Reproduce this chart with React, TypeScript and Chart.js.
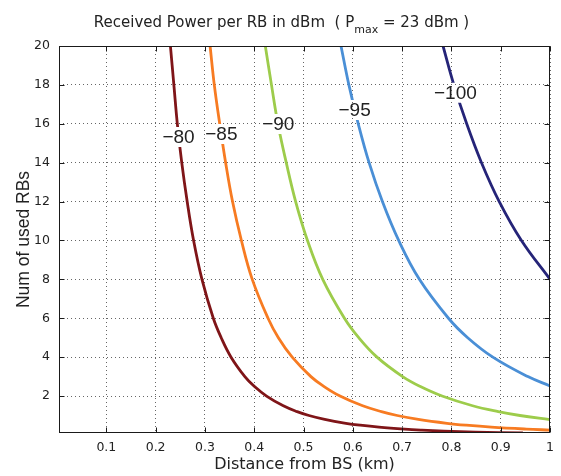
import React, { useEffect, useRef } from "react";
import { Chart, registerables } from "chart.js";

Chart.register(...registerables);

// Contour levels (received power per RB, dBm)
const levelLabels = ["\u221280", "\u221285", "\u221290", "\u221295", "\u2212100"];

// Contour -80 dBm: distance (km) vs number of RBs
const dist80 = [0.230, 0.237, 0.244, 0.253, 0.264, 0.277, 0.294, 0.317, 0.333, 0.353, 0.381, 0.400, 0.425, 0.459, 0.487, 0.511, 0.543, 0.586, 0.615, 0.653, 0.705, 0.740, 0.785, 0.848, 0.945];
const rbs80 = [20, 18, 16, 14, 12, 10, 8, 6, 5, 4, 3, 2.5, 2, 1.5, 1.2, 1, 0.8, 0.6, 0.5, 0.4, 0.3, 0.25, 0.2, 0.15, 0.1];

// Contour -85 dBm
const dist85 = [0.3105, 0.319, 0.330, 0.342, 0.356, 0.374, 0.396, 0.428, 0.449, 0.477, 0.515, 0.541, 0.574, 0.620, 0.658, 0.690, 0.733, 0.791, 0.830, 0.881, 0.952, 1.0];
const rbs85 = [20, 18, 16, 14, 12, 10, 8, 6, 5, 4, 3, 2.5, 2, 1.5, 1.2, 1, 0.8, 0.6, 0.5, 0.4, 0.3, 0.249];

// Contour -90 dBm
const dist90 = [0.4225, 0.435, 0.448, 0.465, 0.484, 0.508, 0.539, 0.583, 0.612, 0.649, 0.701, 0.736, 0.781, 0.843, 0.895, 0.939, 1.0];
const rbs90 = [20, 18, 16, 14, 12, 10, 8, 6, 5, 4, 3, 2.5, 2, 1.5, 1.2, 1, 0.79];

// Contour -95 dBm
const dist95 = [0.576, 0.592, 0.611, 0.633, 0.660, 0.693, 0.735, 0.794, 0.833, 0.884, 0.955, 1.0];
const rbs95 = [20, 18, 16, 14, 12, 10, 8, 6, 5, 4, 3, 2.52];

// Contour -100 dBm
const dist100 = [0.783, 0.805, 0.831, 0.861, 0.897, 0.942, 1.0];
const rbs100 = [20, 18, 16, 14, 12, 10, 8.0];

// Where each contour label sits (data coordinates)
const labelDist = [0.2464, 0.3334, 0.4488, 0.6036, 0.8081];
const labelRbs = [15.32, 15.48, 15.99, 16.71, 17.6];

const xTickValues = [0.1, 0.2, 0.3, 0.4, 0.5, 0.6, 0.7, 0.8, 0.9, 1];
const yTickValues = [2, 4, 6, 8, 10, 12, 14, 16, 18, 20];

const lineColors = ["#7f1518", "#f77b22", "#9dcc4b", "#4a8fd6", "#252478"];

const TEXT = "#222";
const LABEL_FONT = '19px "Liberation Sans", Arial, sans-serif';

export default function App() {
  const ref = useRef<HTMLCanvasElement | null>(null);

  useEffect(() => {
    const canvas = ref.current;
    if (!canvas) return;

    const series = [
      [dist80, rbs80],
      [dist85, rbs85],
      [dist90, rbs90],
      [dist95, rbs95],
      [dist100, rbs100],
    ];

    const datasets = series.map(([xs, ys], i) => ({
      label: levelLabels[i],
      data: xs.map((x, j) => ({ x, y: ys[j] })),
      borderColor: lineColors[i],
      backgroundColor: lineColors[i],
      borderWidth: 2.8,
      pointRadius: 0,
      fill: false,
      tension: 0.4,
      clip: 0,
    }));

    const labelBox = (chart: any, i: number) => {
      const ctx = chart.ctx as CanvasRenderingContext2D;
      ctx.save();
      ctx.font = LABEL_FONT;
      const w = ctx.measureText(levelLabels[i]).width;
      ctx.restore();
      const cx = chart.scales.x.getPixelForValue(labelDist[i]);
      const cy = chart.scales.y.getPixelForValue(labelRbs[i]);
      return { cx, cy, x: cx - w / 2 - 2, y: cy - 10, w: w + 4, h: 20 };
    };

    const contourLabels = {
      id: "contourLabels",
      beforeDatasetDraw(chart: any, args: any) {
        const ctx = chart.ctx as CanvasRenderingContext2D;
        const b = labelBox(chart, args.index);
        ctx.save();
        ctx.beginPath();
        ctx.rect(0, 0, chart.width, chart.height);
        ctx.rect(b.x, b.y, b.w, b.h);
        ctx.clip("evenodd");
      },
      afterDatasetDraw(chart: any) {
        chart.ctx.restore();
      },
      afterDatasetsDraw(chart: any) {
        const ctx = chart.ctx as CanvasRenderingContext2D;
        ctx.save();
        ctx.font = LABEL_FONT;
        ctx.fillStyle = TEXT;
        ctx.textAlign = "center";
        ctx.textBaseline = "middle";
        levelLabels.forEach((t, i) => {
          const b = labelBox(chart, i);
          ctx.fillText(t, b.cx, b.cy + 1);
        });
        ctx.restore();
      },
    };

    const frame = {
      id: "frame",
      afterDraw(chart: any) {
        const ctx = chart.ctx as CanvasRenderingContext2D;
        const a = chart.chartArea;
        const xs = chart.scales.x;
        const ys = chart.scales.y;
        ctx.save();
        ctx.strokeStyle = "#1a1a1a";
        ctx.lineWidth = 1;
        const L = Math.round(a.left) + 0.5;
        const R = Math.round(a.right) - 0.5;
        const T = Math.round(a.top) + 0.5;
        const B = Math.round(a.bottom) - 0.5;
        ctx.strokeRect(L, T, R - L, B - T);
        const tl = 5;
        ctx.beginPath();
        xTickValues.forEach((v) => {
          const px = Math.round(xs.getPixelForValue(v)) + 0.5;
          ctx.moveTo(px, B);
          ctx.lineTo(px, B - tl);
          ctx.moveTo(px, T);
          ctx.lineTo(px, T + tl);
        });
        yTickValues.forEach((v) => {
          const py = Math.round(ys.getPixelForValue(v)) + 0.5;
          ctx.moveTo(L, py);
          ctx.lineTo(L + tl, py);
          ctx.moveTo(R, py);
          ctx.lineTo(R - tl, py);
        });
        ctx.stroke();

        // Title with subscript
        const mainFont = '15px "DejaVu Sans", sans-serif';
        const subFont = '11px "DejaVu Sans", sans-serif';
        const t1 = "Received Power per RB in dBm  ( P";
        const sub = "max";
        const t2 = " = 23 dBm )";
        ctx.fillStyle = TEXT;
        ctx.textBaseline = "alphabetic";
        ctx.textAlign = "left";
        ctx.font = mainFont;
        const w1 = ctx.measureText(t1).width;
        const w3 = ctx.measureText(t2).width;
        ctx.font = subFont;
        const w2 = ctx.measureText(sub).width;
        const start = 281.5 - (w1 + w2 + w3) / 2;
        ctx.font = mainFont;
        ctx.fillText(t1, start, 27);
        ctx.font = subFont;
        ctx.fillText(sub, start + w1, 33);
        ctx.font = mainFont;
        ctx.fillText(t2, start + w1 + w2, 27);
        ctx.restore();
      },
    };

    const chart = new Chart(canvas, {
      type: "line",
      data: { datasets: datasets as any },
      options: {
        responsive: false,
        animation: false,
        devicePixelRatio: 1,
        layout: { padding: { top: 46, right: 9, left: 0, bottom: 0 } },
        plugins: {
          legend: { display: false },
          tooltip: { enabled: false },
          title: { display: false },
        },
        scales: {
          x: {
            type: "linear",
            min: 0.004,
            max: 1,
            afterBuildTicks: (s: any) => {
              s.ticks = xTickValues.map((v) => ({ value: v }));
            },
            afterFit: (s: any) => {
              s.height = 43;
            },
            ticks: {
              color: TEXT,
              padding: 7,
              autoSkip: false,
              maxRotation: 0,
              font: { family: '"DejaVu Sans", sans-serif', size: 12.5 },
              callback: (v: any) => String(v),
            },
            grid: { color: "rgba(0,0,0,0.6)", lineWidth: 1, drawTicks: false },
            border: { display: false, dash: [1, 3] },
            title: {
              display: true,
              text: "Distance from BS (km)",
              color: TEXT,
              font: { family: '"DejaVu Sans", sans-serif', size: 16, lineHeight: 1.2 },
              padding: { top: 0, bottom: 1.4 },
            },
          },
          y: {
            type: "linear",
            min: 0.1,
            max: 20,
            afterBuildTicks: (s: any) => {
              s.ticks = yTickValues.map((v) => ({ value: v }));
            },
            afterFit: (s: any) => {
              s.width = 59;
            },
            ticks: {
              color: TEXT,
              padding: 9,
              autoSkip: false,
              font: { family: '"DejaVu Sans", sans-serif', size: 12.5 },
              callback: (v: any) => String(v),
            },
            grid: { color: "rgba(0,0,0,0.6)", lineWidth: 1, drawTicks: false },
            border: { display: false, dash: [1, 3] },
            title: {
              display: true,
              text: "Num of used RBs",
              color: TEXT,
              font: { family: '"Liberation Sans", Arial, sans-serif', size: 17.5, lineHeight: 1.2 },
              padding: { top: 13.5, bottom: 0 },
            },
          },
        },
      },
      plugins: [contourLabels, frame],
    });

    return () => chart.destroy();
  }, []);

  return (
    <div style={{ position: "absolute", left: 0, top: 0, width: 561, height: 476, background: "#fff" }}>
      <canvas ref={ref} width={561} height={476} style={{ display: "block" }} />
    </div>
  );
}
